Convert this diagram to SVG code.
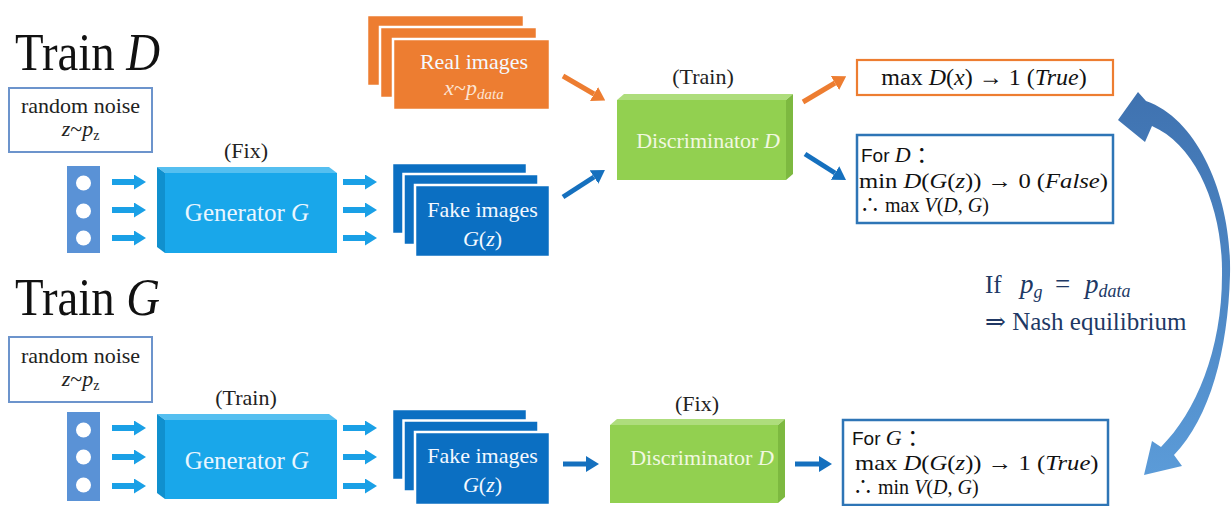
<svg xmlns="http://www.w3.org/2000/svg" width="1232" height="506" viewBox="0 0 1232 506">
<style>
  .serif{font-family:"Liberation Serif","DejaVu Serif","Noto Sans CJK SC",serif}
  .sans{font-family:"Liberation Sans","Open Sans",sans-serif}
  .it{font-style:italic}
  .title{font-size:52px;fill:#111}
  .lbl{font-size:22px;fill:#222}
  .ntxt{font-size:22px;fill:#222}
  .nbox{fill:#fff;stroke:#6C94CC;stroke-width:2}
  .col{fill:#5A92D6}
  .dot{fill:#fff}
  .gen-front{fill:#19A7EA}
  .gen-top{fill:#55BFF0}
  .gen-side{fill:#1090CE}
  .dis-front{fill:#92D050}
  .dis-top{fill:#AEDD7C}
  .dis-side{fill:#7DB940}
  .fake{fill:#0B6FC2;stroke:#fff;stroke-width:2.5}
  .real{fill:#ED7D31;stroke:#fff;stroke-width:2.5}
  .wtxt{font-size:22px;fill:#F4F9FF}
  .gtxt{font-size:25px;fill:#EAF6FF}
  .dtxt{font-size:22px;fill:#F1F8E0}
  .rsub{fill:#FCE4D3}
  .obox{fill:#fff;stroke:#ED7D31;stroke-width:2.2}
  .bbox{fill:#fff;stroke:#2E75B6;stroke-width:2.5}
  .math{font-size:22px;fill:#111}
  .math1{font-size:24px;fill:#111}
  .math3{font-size:20px;fill:#111}
  .navy{font-size:25px;fill:#203864}
  .c-lb{stroke:#1AA0E6;stroke-width:6;fill:none}
  .c-db{stroke:#1570BE;stroke-width:5;fill:none}
  .c-or{stroke:#ED7D31;stroke-width:5;fill:none}
</style>
<defs>
  <marker id="h-lb" markerUnits="userSpaceOnUse" viewBox="0 0 12 15" markerWidth="12" markerHeight="15" refX="0" refY="7.5" orient="auto">
    <path d="M0,0 L12,7.5 L0,15 z" fill="#1AA0E6"/>
  </marker>
  <marker id="h-db" markerUnits="userSpaceOnUse" viewBox="0 0 13 16" markerWidth="13" markerHeight="16" refX="0" refY="8" orient="auto">
    <path d="M0,0 L13,8 L0,16 z" fill="#1570BE"/>
  </marker>
  <marker id="h-or" markerUnits="userSpaceOnUse" viewBox="0 0 13 16" markerWidth="13" markerHeight="16" refX="0" refY="8" orient="auto">
    <path d="M0,0 L13,8 L0,16 z" fill="#ED7D31"/>
  </marker>
  <linearGradient id="curveGrad" x1="0" y1="0" x2="0" y2="1">
    <stop offset="0" stop-color="#3F72B0"/>
    <stop offset="1" stop-color="#5B9BD8"/>
  </linearGradient>
</defs>

<!-- Titles -->
<g id="title-train-d">
  <text class="serif title" transform="translate(15,70) scale(0.9,1)" x="0" y="0">Train <tspan class="it">D</tspan></text>
</g>
<g id="title-train-g">
  <text class="serif title" transform="translate(15,315) scale(0.9,1)" x="0" y="0">Train <tspan class="it">G</tspan></text>
</g>

<!-- ===== Top row: Train D ===== -->
<g id="noise-box-d">
  <rect class="nbox" x="9" y="88" width="143" height="64"/>
  <text class="serif ntxt" x="80.5" y="113" text-anchor="middle">random noise</text>
  <text class="serif ntxt" x="80.5" y="136" text-anchor="middle"><tspan class="it">z</tspan>~<tspan class="it">p</tspan><tspan font-size="14" dy="4">z</tspan></text>
</g>
<g id="noise-vector-d">
  <rect class="col" x="67" y="166" width="33" height="87"/>
  <circle class="dot" cx="83.5" cy="183" r="7.5"/>
  <circle class="dot" cx="83.5" cy="211" r="7.5"/>
  <circle class="dot" cx="83.5" cy="238" r="7.5"/>
</g>
<g id="generator-d">
  <text class="serif lbl" x="246" y="158" text-anchor="middle">(Fix)</text>
  <rect class="gen-front" x="165" y="173" width="172" height="80"/>
  <polygon class="gen-top" points="157,167 329,167 337,173 165,173"/>
  <polygon class="gen-side" points="157,167 165,173 165,253 157,247"/>
  <text class="serif gtxt" x="247" y="221" text-anchor="middle">Generator <tspan class="it">G</tspan></text>
</g>
<g id="fake-images-d">
  <rect class="fake" x="392" y="163" width="135" height="71"/>
  <rect class="fake" x="403.5" y="174" width="135" height="71"/>
  <rect class="fake" x="415" y="185" width="135" height="72"/>
  <text class="serif wtxt" x="482.5" y="217" text-anchor="middle">Fake images</text>
  <text class="serif wtxt" x="482.5" y="246" text-anchor="middle"><tspan class="it">G</tspan>(<tspan class="it">z</tspan>)</text>
</g>
<g id="real-images">
  <rect class="real" x="367" y="15" width="157" height="71"/>
  <rect class="real" x="380" y="27" width="157" height="71"/>
  <rect class="real" x="393" y="39" width="157" height="71"/>
  <text class="serif wtxt" x="474" y="69" text-anchor="middle">Real images</text>
  <text class="serif wtxt rsub" x="474" y="95" text-anchor="middle"><tspan class="it">x</tspan>~<tspan class="it">p</tspan><tspan class="it" font-size="15" dy="4">data</tspan></text>
</g>
<g id="discriminator-d">
  <text class="serif lbl" x="703" y="84" text-anchor="middle">(Train)</text>
  <rect class="dis-front" x="617" y="100" width="169" height="80"/>
  <polygon class="dis-top" points="617,100 624,94 793,94 786,100"/>
  <polygon class="dis-side" points="786,100 793,94 793,174 786,180"/>
  <text class="serif dtxt" x="708" y="148" text-anchor="middle">Discriminator <tspan class="it">D</tspan></text>
</g>
<g id="result-real">
  <rect class="obox" x="857" y="60" width="256" height="35"/>
  <text class="serif math1" x="984" y="85" text-anchor="middle">max <tspan class="it">D</tspan>(<tspan class="it">x</tspan>) → 1 (<tspan class="it">True</tspan>)</text>
</g>
<g id="result-fake-d">
  <rect class="bbox" x="857" y="135" width="256" height="88"/>
  <text class="math" x="861" y="162"><tspan class="sans" font-size="19">For </tspan><tspan class="serif it">D</tspan><tspan class="serif"> ：</tspan></text>
  <text class="serif math" transform="translate(859,188) scale(1.12,1)" x="0" y="0">min <tspan class="it">D</tspan>(<tspan class="it">G</tspan>(<tspan class="it">z</tspan>)) → 0 (<tspan class="it">False</tspan>)</text>
  <text class="serif math3" x="860" y="211.5">∴ max <tspan class="it">V</tspan>(<tspan class="it">D</tspan>, <tspan class="it">G</tspan>)</text>
</g>

<!-- ===== Bottom row: Train G ===== -->
<g id="noise-box-g">
  <rect class="nbox" x="9" y="337" width="143" height="65"/>
  <text class="serif ntxt" x="80.5" y="363" text-anchor="middle">random noise</text>
  <text class="serif ntxt" x="80.5" y="386" text-anchor="middle"><tspan class="it">z</tspan>~<tspan class="it">p</tspan><tspan font-size="14" dy="4">z</tspan></text>
</g>
<g id="noise-vector-g">
  <rect class="col" x="67" y="412" width="33" height="89"/>
  <circle class="dot" cx="83.5" cy="430" r="7.5"/>
  <circle class="dot" cx="83.5" cy="457" r="7.5"/>
  <circle class="dot" cx="83.5" cy="485" r="7.5"/>
</g>
<g id="generator-g">
  <text class="serif lbl" x="246" y="405" text-anchor="middle">(Train)</text>
  <rect class="gen-front" x="165" y="420" width="172" height="79"/>
  <polygon class="gen-top" points="157,414 329,414 337,420 165,420"/>
  <polygon class="gen-side" points="157,414 165,420 165,499 157,493"/>
  <text class="serif gtxt" x="247" y="469" text-anchor="middle">Generator <tspan class="it">G</tspan></text>
</g>
<g id="fake-images-g">
  <rect class="fake" x="392" y="409" width="135" height="71"/>
  <rect class="fake" x="403.5" y="420.5" width="135" height="71"/>
  <rect class="fake" x="415" y="432" width="135" height="73"/>
  <text class="serif wtxt" x="482.5" y="463" text-anchor="middle">Fake images</text>
  <text class="serif wtxt" x="482.5" y="492" text-anchor="middle"><tspan class="it">G</tspan>(<tspan class="it">z</tspan>)</text>
</g>
<g id="discriminator-g">
  <text class="serif lbl" x="697" y="411" text-anchor="middle">(Fix)</text>
  <rect class="dis-front" x="610" y="425" width="168" height="78"/>
  <polygon class="dis-top" points="610,425 617,419 785,419 778,425"/>
  <polygon class="dis-side" points="778,425 785,419 785,497 778,503"/>
  <text class="serif dtxt" x="702" y="465" text-anchor="middle">Discriminator <tspan class="it">D</tspan></text>
</g>
<g id="result-g">
  <rect class="bbox" x="843" y="420" width="265" height="85"/>
  <text class="math" x="852" y="445"><tspan class="sans" font-size="19">For </tspan><tspan class="serif it">G</tspan><tspan class="serif"> ：</tspan></text>
  <text class="serif math" transform="translate(855,470) scale(1.12,1)" x="0" y="0">max <tspan class="it">D</tspan>(<tspan class="it">G</tspan>(<tspan class="it">z</tspan>)) → 1 (<tspan class="it">True</tspan>)</text>
  <text class="serif math3" x="853" y="494">∴ min <tspan class="it">V</tspan>(<tspan class="it">D</tspan>, <tspan class="it">G</tspan>)</text>
</g>

<!-- Nash equilibrium note -->
<g id="nash-note">
  <text class="serif navy" x="985" y="293">If<tspan class="it" x="1020" font-size="27">p</tspan><tspan class="it" font-size="18" dy="5">g</tspan><tspan x="1055" dy="-5" font-size="27">=</tspan><tspan class="it" x="1085" font-size="27">p</tspan><tspan class="it" font-size="18" dy="4">data</tspan></text>
  <text class="serif navy" x="985" y="330">⇒ Nash equilibrium</text>
</g>

<!-- Connectors -->
<g id="connectors">
  <line class="c-lb" x1="112" y1="182" x2="134" y2="182" marker-end="url(#h-lb)"/>
  <line class="c-lb" x1="112" y1="210" x2="134" y2="210" marker-end="url(#h-lb)"/>
  <line class="c-lb" x1="112" y1="238" x2="134" y2="238" marker-end="url(#h-lb)"/>
  <line class="c-lb" x1="343" y1="182" x2="365" y2="182" marker-end="url(#h-lb)"/>
  <line class="c-lb" x1="343" y1="210" x2="365" y2="210" marker-end="url(#h-lb)"/>
  <line class="c-lb" x1="343" y1="238" x2="365" y2="238" marker-end="url(#h-lb)"/>
  <line class="c-or" x1="563" y1="76" x2="594" y2="94" marker-end="url(#h-or)"/>
  <line class="c-db" x1="563" y1="197" x2="594" y2="177" marker-end="url(#h-db)"/>
  <line class="c-or" x1="803" y1="102" x2="835" y2="83" marker-end="url(#h-or)"/>
  <line class="c-db" x1="805" y1="154" x2="835" y2="173" marker-end="url(#h-db)"/>
  <line class="c-lb" x1="112" y1="428" x2="134" y2="428" marker-end="url(#h-lb)"/>
  <line class="c-lb" x1="112" y1="457" x2="134" y2="457" marker-end="url(#h-lb)"/>
  <line class="c-lb" x1="112" y1="486" x2="134" y2="486" marker-end="url(#h-lb)"/>
  <line class="c-lb" x1="343" y1="428" x2="365" y2="428" marker-end="url(#h-lb)"/>
  <line class="c-lb" x1="343" y1="457" x2="365" y2="457" marker-end="url(#h-lb)"/>
  <line class="c-lb" x1="343" y1="486" x2="365" y2="486" marker-end="url(#h-lb)"/>
  <line class="c-db" x1="563" y1="464" x2="586" y2="464" marker-end="url(#h-db)"/>
  <line class="c-db" x1="795" y1="464" x2="819" y2="464" marker-end="url(#h-db)"/>
  <path fill="url(#curveGrad)" d="M1118,120 L1138,92 L1146,101 C1200,120 1232,200 1230,275 C1228,350 1210,418 1174,455 L1182,466 L1144,475 L1152,441 L1161,447 C1196,412 1222,350 1222,275 C1223,208 1196,145 1152,126 L1145,142 Z"/>
</g>
</svg>
